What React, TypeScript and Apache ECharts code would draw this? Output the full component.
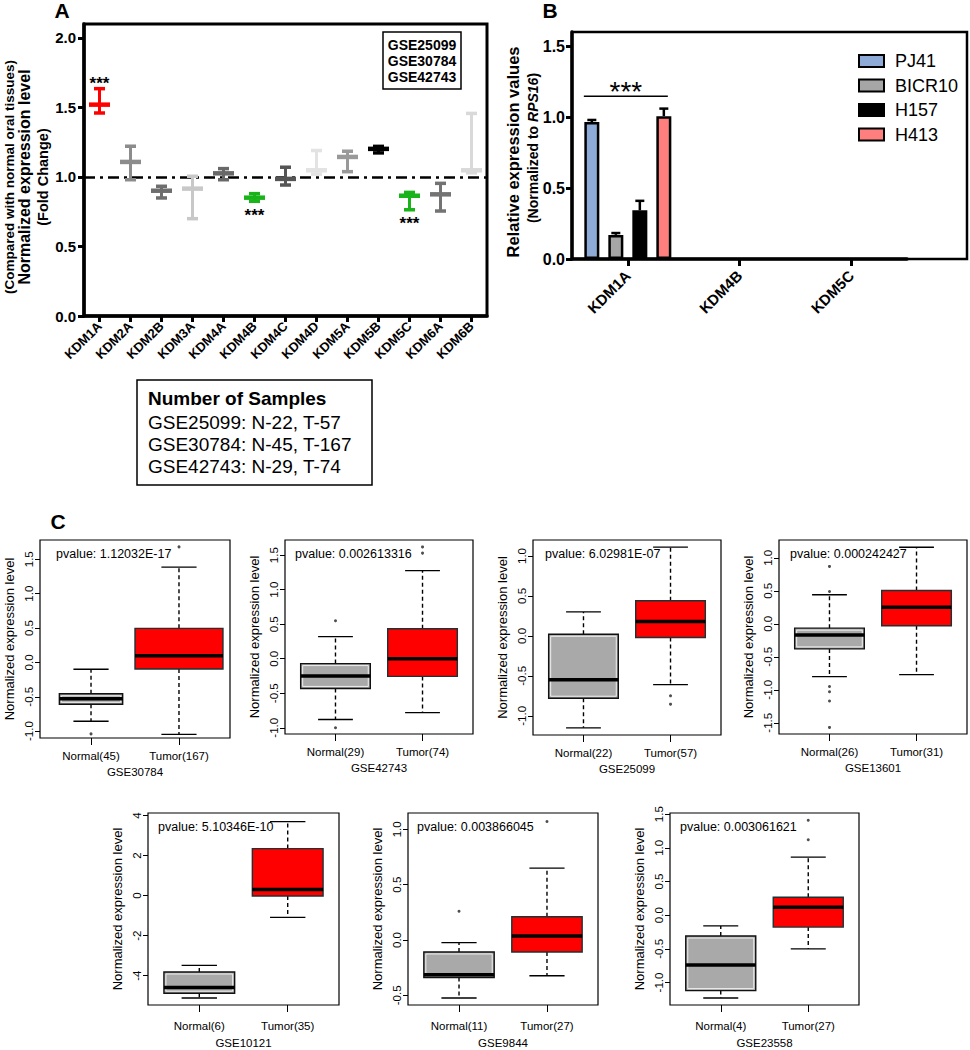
import React, { useEffect, useRef } from "react";
import * as echarts from "echarts";

const FONT = '"Liberation Sans", Arial, Helvetica, sans-serif';

// ---------- Panel A data ----------
const kdmGenes = ["KDM1A", "KDM2A", "KDM2B", "KDM3A", "KDM4A", "KDM4B", "KDM4C", "KDM4D", "KDM5A", "KDM5B", "KDM5C", "KDM6A", "KDM6B"];
const foldMean = [1.52, 1.108, 0.901, 0.916, 1.026, 0.851, 0.986, 1.048, 1.144, 1.202, 0.865, 0.875, 1.048];
const foldLow = [1.46, 0.98, 0.849, 0.7, 0.98, 0.825, 0.942, 1.02, 1.038, 1.173, 0.764, 0.755, 1.03];
const foldHigh = [1.635, 1.221, 0.933, 1.005, 1.06, 0.88, 1.07, 1.19, 1.185, 1.22, 0.889, 0.954, 1.457];
const foldColors = ["#ff0000", "#8c8c8c", "#6e6e6e", "#c8c8c8", "#686868", "#19b419", "#555555", "#e3e3e3", "#999999", "#000000", "#19b419", "#737373", "#d9d9d9"];
const foldSig = ["up", "", "", "", "", "down", "", "", "", "", "down", "", ""];
const refLine = 1.0;
const aTicks = [0, 0.5, 1, 1.5, 2];
const gseList = ["GSE25099", "GSE30784", "GSE42743"];
const sampleTitle = "Number of Samples";
const sampleLines = ["GSE25099: N-22, T-57", "GSE30784: N-45, T-167", "GSE42743: N-29, T-74"];

// ---------- Panel B data ----------
const bGenes = ["KDM1A", "KDM4B", "KDM5C"];
const cellLines = ["PJ41", "BICR10", "H157", "H413"];
const cellColors = ["#8eabd8", "#a6a6a6", "#000000", "#ff7f7f"];
const pj41 = [0.965, null, null];
const bicr10 = [0.17, null, null];
const h157 = [0.343, null, null];
const h413 = [1.007, null, null];
const pj41Err = [0.015, null, null];
const bicr10Err = [0.013, null, null];
const h157Err = [0.067, null, null];
const h413Err = [0.053, null, null];
const bSigLevel = 1.148;
const bTicks = [0, 0.5, 1, 1.5];

// ---------- Panel C data ----------
const cGse = ["GSE30784", "GSE42743", "GSE25099", "GSE13601", "GSE10121", "GSE9844", "GSE23558"];
const cPvalues = ["pvalue: 1.12032E-17", "pvalue: 0.002613316", "pvalue: 6.02981E-07", "pvalue: 0.000242427", "pvalue: 5.10346E-10", "pvalue: 0.003866045", "pvalue: 0.003061621"];
const cNormalLabels = ["Normal(45)", "Normal(29)", "Normal(22)", "Normal(26)", "Normal(6)", "Normal(11)", "Normal(4)"];
const cTumorLabels = ["Tumor(167)", "Tumor(74)", "Tumor(57)", "Tumor(31)", "Tumor(35)", "Tumor(27)", "Tumor(27)"];
// [lower whisker, Q1, median, Q3, upper whisker]
const cNormalStats = [
  [-0.856, -0.61, -0.53, -0.457, -0.1],
  [-0.88, -0.43, -0.25, -0.07, 0.32],
  [-1.15, -0.78, -0.55, 0.02, 0.3],
  [-0.8, -0.38, -0.17, -0.066, 0.44],
  [-5.12, -4.88, -4.6, -3.82, -3.49],
  [-0.524, -0.338, -0.314, -0.108, -0.024],
  [-1.23, -1.12, -0.74, -0.31, -0.16],
];
const cTumorStats = [
  [-1.048, -0.096, 0.096, 0.495, 1.385],
  [-0.78, -0.256, 0.0, 0.435, 1.275],
  [-0.61, -0.02, 0.18, 0.44, 1.11],
  [-0.77, -0.03, 0.25, 0.505, 1.16],
  [-1.09, -0.02, 0.31, 2.35, 3.7],
  [-0.323, -0.108, 0.036, 0.21, 0.65],
  [-0.5, -0.177, 0.118, 0.266, 0.862],
];
const cNormalOutliers = [[-1.04], [0.55, -1.0], [], [0.87, 0.49, -0.95, -1.03, -1.17, -1.57], [], [0.26], []];
const cTumorOutliers = [[1.68], [1.62, 1.53], [-0.75, -0.854], [], [], [1.07], [1.41, 1.12]];
const cNormalWidth = [0.72, 0.8, 0.8, 0.8, 0.8, 0.8, 0.8];
const cTumorWidth = [1.0, 0.8, 0.8, 0.8, 0.8, 0.8, 0.8];
const cYMin = [-1.1, -1.09, -1.24, -1.67, -5.47, -0.587, -1.334];
const cYMax = [1.78, 1.72, 1.2, 1.27, 4.13, 1.147, 1.517];
const cYTicks = [
  [-1, -0.5, 0, 0.5, 1, 1.5],
  [-1, -0.5, 0, 0.5, 1, 1.5],
  [-1, -0.5, 0, 0.5, 1],
  [-1.5, -1, -0.5, 0, 0.5, 1],
  [-4, -2, 0, 2, 4],
  [-0.5, 0, 0.5, 1],
  [-1, -0.5, 0, 0.5, 1, 1.5],
];
const cYLabel = "Normalized expression level";

// ---------- Layout (positions only) ----------
const gridA = { left: 84, top: 24, width: 403, height: 292 };
const gridB = { left: 572, top: 32, width: 335, height: 227 };
const frameBRight = 967;
const cGrids = [
  [40, 540, 190, 198],
  [285, 540, 188, 194],
  [533, 540, 188, 195],
  [779, 540, 188, 194],
  [148, 813, 191, 193],
  [408, 813, 190, 193],
  [670, 813, 189, 193],
];
const cPvalOffset = [16, 10, 12, 11, 10, 9, 10];

const font = (size: number, weight = "normal", style = "normal") => `${style} ${weight} ${size}px ${FONT}`;

function text(x: number, y: number, str: string, f: string, opts: any = {}) {
  const align = opts.align || "center";
  const va = opts.va || "middle";
  return {
    type: "text",
    x,
    y,
    rotation: opts.rot || 0,
    z: 100,
    silent: true,
    style: {
      text: str,
      font: f,
      fill: "#000",
      textAlign: align,
      textVerticalAlign: va,
      align,
      verticalAlign: va,
      rich: opts.rich,
    },
  };
}

function buildOption(): any {
  const grids: any[] = [
    { left: gridA.left, top: gridA.top, width: gridA.width, height: gridA.height, show: true, borderColor: "#000", borderWidth: 3 },
    { left: gridB.left, top: gridB.top, width: gridB.width, height: gridB.height },
    ...cGrids.map((g) => ({ left: g[0], top: g[1], width: g[2], height: g[3], show: true, borderColor: "#000", borderWidth: 1.2 })),
  ];

  const xAxes: any[] = [
    {
      type: "category",
      gridIndex: 0,
      data: kdmGenes,
      axisLine: { show: true, lineStyle: { color: "#000", width: 3.5 } },
      axisTick: { show: true, alignWithLabel: true, length: 6, lineStyle: { color: "#000", width: 3 } },
      axisLabel: { interval: 0, rotate: 45, margin: 8, color: "#000", fontWeight: "bold", fontSize: 13, fontFamily: FONT },
      splitLine: { show: false },
    },
    {
      type: "category",
      gridIndex: 1,
      data: bGenes,
      axisLine: { show: true, lineStyle: { color: "#000", width: 3.5 } },
      axisTick: { show: true, alignWithLabel: true, length: 7, lineStyle: { color: "#000", width: 3 } },
      axisLabel: { interval: 0, rotate: 45, margin: 14, color: "#000", fontWeight: "bold", fontSize: 15, fontFamily: FONT },
      splitLine: { show: false },
    },
    ...cGrids.map((_, i) => ({
      type: "value",
      gridIndex: i + 2,
      min: 0.42,
      max: 2.58,
      axisLine: { show: false, onZero: false },
      axisTick: { show: true, customValues: [1, 2], length: 7, lineStyle: { color: "#000", width: 1 } },
      axisLabel: {
        customValues: [1, 2],
        formatter: (v: number) => (v === 1 ? cNormalLabels[i] : cTumorLabels[i]),
        margin: i < 4 ? 12 : 15,
        fontSize: 11.5,
        color: "#000",
        fontFamily: FONT,
      },
      splitLine: { show: false },
      name: cGse[i],
      nameLocation: "middle",
      nameGap: i < 4 ? 28 : 32,
      nameTextStyle: { fontSize: 11.5, color: "#000", fontFamily: FONT },
    })),
  ];

  const yAxes: any[] = [
    {
      type: "value",
      gridIndex: 0,
      min: 0,
      max: 2.1,
      axisLine: { show: true, onZero: false, lineStyle: { color: "#000", width: 3.5 } },
      axisTick: { show: true, customValues: aTicks, length: 6, lineStyle: { color: "#000", width: 3 } },
      axisLabel: { customValues: aTicks, formatter: (v: number) => v.toFixed(1), margin: 8, color: "#000", fontWeight: "bold", fontSize: 15, fontFamily: FONT },
      splitLine: { show: false },
    },
    {
      type: "value",
      gridIndex: 1,
      min: 0,
      max: 1.6,
      axisLine: { show: true, onZero: false, lineStyle: { color: "#000", width: 3.5 } },
      axisTick: { show: true, customValues: bTicks, length: 6, lineStyle: { color: "#000", width: 3 } },
      axisLabel: { customValues: bTicks, formatter: (v: number) => v.toFixed(1), margin: 7, color: "#000", fontWeight: "bold", fontSize: 16, fontFamily: FONT },
      splitLine: { show: false },
    },
    ...cGrids.map((_, i) => ({
      type: "value",
      gridIndex: i + 2,
      min: cYMin[i],
      max: cYMax[i],
      axisLine: { show: false, onZero: false },
      axisTick: { show: true, customValues: cYTicks[i], length: 5, lineStyle: { color: "#000", width: 1 } },
      axisLabel: {
        customValues: cYTicks[i],
        rotate: 90,
        formatter: (v: number) => (i === 4 ? String(v) : v.toFixed(1)),
        margin: 5,
        fontSize: 11.5,
        color: "#000",
        fontFamily: FONT,
      },
      splitLine: { show: false },
      name: cYLabel,
      nameLocation: "middle",
      nameGap: 24,
      nameTextStyle: { fontSize: 13, color: "#000", fontFamily: FONT },
    })),
  ];

  const series: any[] = [];

  // Panel A error bars
  series.push({
    type: "custom",
    xAxisIndex: 0,
    yAxisIndex: 0,
    silent: true,
    encode: { x: 0, y: [1, 2, 3] },
    data: kdmGenes.map((_, i) => [i, foldMean[i], foldLow[i], foldHigh[i]]),
    renderItem: (params: any, api: any) => {
      const i = params.dataIndex;
      const x = api.value(0);
      const pm = api.coord([x, api.value(1)]);
      const pl = api.coord([x, api.value(2)]);
      const ph = api.coord([x, api.value(3)]);
      const c = foldColors[i];
      const children: any[] = [
        { type: "line", shape: { x1: pm[0], y1: pl[1], x2: pm[0], y2: ph[1] }, style: { stroke: c, lineWidth: 3 } },
        { type: "line", shape: { x1: pm[0] - 5.5, y1: ph[1], x2: pm[0] + 5.5, y2: ph[1] }, style: { stroke: c, lineWidth: 3.5 } },
        { type: "line", shape: { x1: pm[0] - 5.5, y1: pl[1], x2: pm[0] + 5.5, y2: pl[1] }, style: { stroke: c, lineWidth: 3.5 } },
        { type: "line", shape: { x1: pm[0] - 10.5, y1: pm[1], x2: pm[0] + 10.5, y2: pm[1] }, style: { stroke: c, lineWidth: 4.5 } },
      ];
      if (foldSig[i] === "up") {
        children.push({ type: "text", x: pm[0], y: ph[1] - 5, style: { text: "***", font: font(17, "bold"), fill: "#000", align: "center", verticalAlign: "middle", textAlign: "center", textVerticalAlign: "middle" } });
      } else if (foldSig[i] === "down") {
        children.push({ type: "text", x: pm[0], y: pl[1] + 14, style: { text: "***", font: font(17, "bold"), fill: "#000", align: "center", verticalAlign: "middle", textAlign: "center", textVerticalAlign: "middle" } });
      }
      return { type: "group", children };
    },
    z: 5,
  });

  // Panel A reference line
  series.push({
    type: "scatter",
    xAxisIndex: 0,
    yAxisIndex: 0,
    symbolSize: 0,
    silent: true,
    data: [[0, refLine]],
    markLine: {
      silent: true,
      symbol: "none",
      label: { show: false },
      lineStyle: { color: "#000", width: 2.5, type: [11, 5, 3, 5] },
      data: [{ yAxis: refLine }],
    },
    z: 3,
  });

  // Panel B bars
  const bValues = [pj41, bicr10, h157, h413];
  const bErrs = [pj41Err, bicr10Err, h157Err, h413Err];
  cellLines.forEach((name, s) => {
    series.push({
      type: "bar",
      name,
      xAxisIndex: 1,
      yAxisIndex: 1,
      data: bValues[s],
      barWidth: 15,
      barGap: "60%",
      itemStyle: { color: cellColors[s], borderColor: "#000", borderWidth: 2.5 },
      silent: true,
      z: 3,
    });
  });
  const bErrData: any[] = [];
  cellLines.forEach((_, s) => {
    bValues[s].forEach((v, c) => {
      if (v != null) bErrData.push([c, s, v, bErrs[s][c] as number]);
    });
  });
  series.push({
    type: "custom",
    xAxisIndex: 1,
    yAxisIndex: 1,
    silent: true,
    encode: { x: 0, y: 2 },
    data: bErrData,
    renderItem: (params: any, api: any) => {
      const c = api.value(0);
      const s = api.value(1);
      const v = api.value(2);
      const e = api.value(3);
      const pb = api.coord([c, v]);
      const pt = api.coord([c, v + e]);
      const x = pb[0] + (s - 1.5) * 24;
      return {
        type: "group",
        children: [
          { type: "line", shape: { x1: x, y1: pb[1], x2: x, y2: pt[1] }, style: { stroke: "#000", lineWidth: 2.5 } },
          { type: "line", shape: { x1: x - 4.5, y1: pt[1], x2: x + 4.5, y2: pt[1] }, style: { stroke: "#000", lineWidth: 2.5 } },
        ],
      };
    },
    z: 4,
  });
  series.push({
    type: "custom",
    xAxisIndex: 1,
    yAxisIndex: 1,
    silent: true,
    encode: { x: 0, y: 1 },
    data: [[0, bSigLevel]],
    renderItem: (params: any, api: any) => {
      const p = api.coord([api.value(0), api.value(1)]);
      return {
        type: "group",
        children: [
          { type: "line", shape: { x1: p[0] - 44, y1: p[1], x2: p[0] + 40, y2: p[1] }, style: { stroke: "#000", lineWidth: 1.5 } },
          { type: "text", x: p[0] - 2, y: p[1] - 4.5, style: { text: "***", font: font(28), fill: "#000", align: "center", verticalAlign: "middle", textAlign: "center", textVerticalAlign: "middle" } },
        ],
      };
    },
    z: 4,
  });

  // Panel C boxplots
  const capHalf = 0.2;
  const boxRender = (params: any, api: any) => {
    const x = api.value(0);
    const lw = api.value(1);
    const q1 = api.value(2);
    const med = api.value(3);
    const q3 = api.value(4);
    const hw = api.value(5);
    const w = api.value(6);
    const kind = api.value(7);
    const tl = api.coord([x - w / 2, q3]);
    const br = api.coord([x + w / 2, q1]);
    const pm = api.coord([x, med]);
    const pq1 = api.coord([x, q1]);
    const pq3 = api.coord([x, q3]);
    const phw = api.coord([x, hw]);
    const plw = api.coord([x, lw]);
    const ca = api.coord([x - capHalf, q1])[0];
    const cb = api.coord([x + capHalf, q1])[0];
    const fill = kind === 0 ? "#a9a9a9" : "#ff0000";
    const stroke = kind === 0 ? "#111" : "#1d3333";
    const children: any[] = [
      { type: "line", shape: { x1: pq3[0], y1: pq3[1], x2: phw[0], y2: phw[1] }, style: { stroke: "#000", lineWidth: 1.4, lineDash: [4, 3] } },
      { type: "line", shape: { x1: pq1[0], y1: pq1[1], x2: plw[0], y2: plw[1] }, style: { stroke: "#000", lineWidth: 1.4, lineDash: [4, 3] } },
      { type: "line", shape: { x1: ca, y1: phw[1], x2: cb, y2: phw[1] }, style: { stroke: "#000", lineWidth: 1.3 } },
      { type: "line", shape: { x1: ca, y1: plw[1], x2: cb, y2: plw[1] }, style: { stroke: "#000", lineWidth: 1.3 } },
      { type: "rect", shape: { x: tl[0], y: tl[1], width: br[0] - tl[0], height: br[1] - tl[1] }, style: { fill, stroke, lineWidth: 1.4 } },
    ];
    if (kind === 0 && br[1] - tl[1] > 6) {
      children.push({ type: "rect", shape: { x: tl[0] + 2, y: tl[1] + 2, width: br[0] - tl[0] - 4, height: br[1] - tl[1] - 4 }, style: { fill: "none", stroke: "#eeeeee", lineWidth: 1 } });
    }
    children.push({ type: "line", shape: { x1: tl[0], y1: pm[1], x2: br[0], y2: pm[1] }, style: { stroke: "#000", lineWidth: 3.5 } });
    return { type: "group", children };
  };

  cGrids.forEach((_, i) => {
    series.push({
      type: "custom",
      xAxisIndex: i + 2,
      yAxisIndex: i + 2,
      silent: true,
      encode: { x: 0, y: [1, 5] },
      data: [
        [1, ...cNormalStats[i], cNormalWidth[i], 0],
        [2, ...cTumorStats[i], cTumorWidth[i], 1],
      ],
      renderItem: boxRender,
      z: 3,
    });
    const outliers = [...cNormalOutliers[i].map((v) => [1, v]), ...cTumorOutliers[i].map((v) => [2, v])];
    if (outliers.length) {
      series.push({
        type: "scatter",
        xAxisIndex: i + 2,
        yAxisIndex: i + 2,
        silent: true,
        symbol: "circle",
        symbolSize: 3,
        itemStyle: { color: "#222" },
        data: outliers,
        z: 4,
      });
    }
  });

  // Graphics: titles, boxes, axis titles
  const graphics: any[] = [
    text(62, 10, "A", font(21, "bold")),
    text(550, 10, "B", font(21, "bold")),
    text(58, 521, "C", font(21, "bold")),
    // A y title
    text(9, 177, "(Compared with normal oral tissues)", font(13.5, "bold"), { rot: Math.PI / 2 }),
    text(24, 177, "Normalized expression level", font(16, "bold"), { rot: Math.PI / 2 }),
    text(43, 177, "(Fold Change)", font(14.5, "bold"), { rot: Math.PI / 2 }),
    // A GSE box
    { type: "rect", z: 100, silent: true, shape: { x: 383, y: 32, width: 78, height: 57 }, style: { fill: "#fff", stroke: "#000", lineWidth: 1.5 } },
    ...gseList.map((g, k) => text(422, 45 + k * 16, g, font(14, "bold"))),
    // samples box
    { type: "rect", z: 100, silent: true, shape: { x: 137, y: 380, width: 235, height: 105 }, style: { fill: "#fff", stroke: "#000", lineWidth: 1.5 } },
    text(148, 398, sampleTitle, font(19, "bold"), { align: "left" }),
    ...sampleLines.map((l, k) => text(148, 422 + k * 22.3, l, font(19), { align: "left" })),
    // B frame
    { type: "rect", z: 1, silent: true, shape: { x: gridB.left, y: gridB.top, width: frameBRight - gridB.left, height: gridB.height }, style: { fill: "none", stroke: "#000", lineWidth: 2.5 } },
    // B y title
    text(513, 152, "Relative expression values", font(16.5, "bold"), { rot: Math.PI / 2 }),
    text(533, 148, "(Normalized to {i|RPS16})", font(14, "bold"), {
      rot: Math.PI / 2,
      rich: { i: { fontStyle: "italic", fontWeight: "bold", fontSize: 14, fontFamily: FONT, fill: "#000" } },
    }),
    // pvalues
    ...cGrids.map((g, i) => text(g[0] + cPvalOffset[i], g[1] + 14, cPvalues[i], font(12.5), { align: "left" })),
  ];

  return {
    animation: false,
    backgroundColor: "#fff",
    textStyle: { fontFamily: FONT },
    grid: grids,
    xAxis: xAxes,
    yAxis: yAxes,
    legend: {
      data: cellLines,
      orient: "vertical",
      left: 853,
      top: 46,
      itemWidth: 25,
      itemHeight: 12,
      itemGap: 4.5,
      icon: "rect",
      selectedMode: false,
      textStyle: { fontSize: 18, lineHeight: 20, color: "#000", fontFamily: FONT, padding: [0, 0, 0, 6] },
    },
    series,
    graphic: { elements: graphics },
  };
}

export default function App() {
  const ref = useRef<HTMLDivElement>(null);
  useEffect(() => {
    const chart = echarts.init(ref.current as HTMLDivElement, null, { renderer: "svg" });
    chart.setOption(buildOption());
    return () => chart.dispose();
  }, []);
  return (
    <div
      ref={ref}
      style={{ position: "absolute", left: 0, top: 0, width: 970, height: 1050, background: "#fff" }}
    />
  );
}
